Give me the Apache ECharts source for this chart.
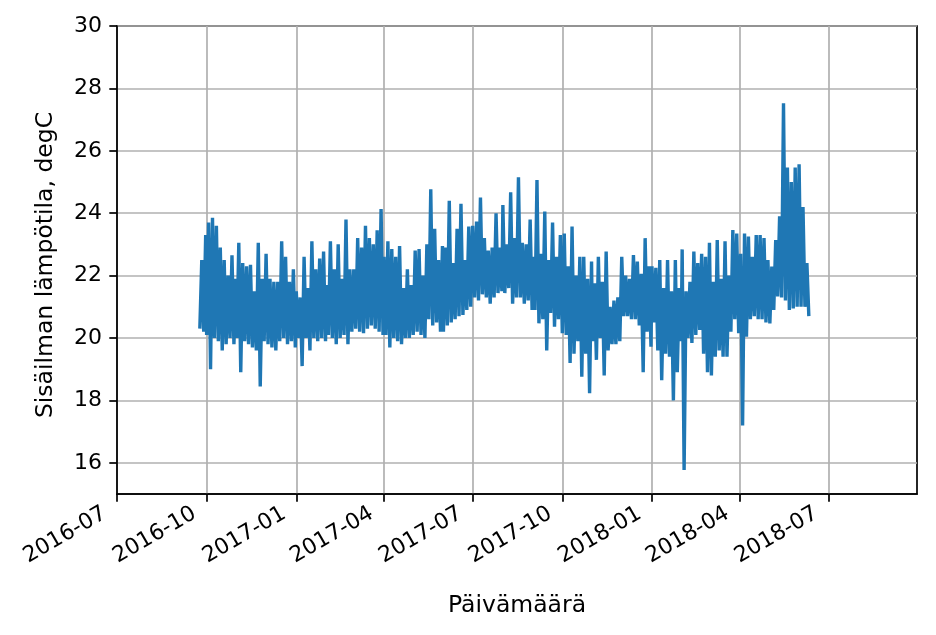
<!DOCTYPE html>
<html><head><meta charset="utf-8">
<script src="https://cdn.jsdelivr.net/npm/echarts@6/dist/echarts.min.js"></script>
<style>html,body{margin:0;padding:0;background:#fff}#c{width:936px;height:635px}</style>
</head><body><div id="c"></div>
<script>
// Indoor temperature samples (degC), one value every 2 days from the segment start day
const sep2016 = [20.3, 22.5, 20.2, 23.3];
const oct2016 = [20.1, 23.7, 19.0, 23.85, 20.0, 23.6, 19.9, 22.9, 19.6, 22.5, 19.8, 22.0, 20.0, 22.65, 19.8, 21.9];
const nov2016 = [20.0, 23.05, 18.9, 22.4, 19.9, 22.3, 19.8, 22.35, 19.7, 21.5, 19.6, 23.05, 18.45, 21.9, 19.9];
const dec2016 = [22.7, 19.8, 21.9, 19.7, 21.8, 19.6, 21.8, 19.9, 23.1, 20.0, 22.6, 19.8, 21.8, 19.9, 22.2, 19.7];
const jan2017 = [21.5, 20.0, 21.3, 19.1, 22.6, 20.0, 21.6, 19.6, 23.1, 20.0, 22.2, 19.9, 22.55, 20.0, 22.77, 19.9];
const feb2017 = [21.7, 20.1, 23.1, 20.0, 22.2, 19.8, 23.0, 20.0, 21.9, 20.1, 23.8, 19.8, 22.2, 20.2];
const mar2017 = [22.2, 20.3, 23.2, 20.2, 22.9, 20.15, 23.6, 20.3, 23.2, 20.4, 23.0, 20.3, 23.45, 20.2, 24.13, 20.1];
const apr2017 = [22.6, 20.1, 23.1, 19.7, 22.85, 20.0, 22.6, 19.9, 22.95, 19.8, 21.6, 20.0, 22.2, 20.0, 21.7];
const may2017 = [20.1, 22.8, 20.2, 22.85, 20.1, 22.0, 20.0, 23.0, 20.6, 24.77, 20.4, 23.5, 20.5, 22.5, 20.2, 22.95];
const jun2017 = [20.2, 22.9, 20.4, 24.4, 20.5, 22.4, 20.6, 23.5, 20.7, 24.3, 20.74, 22.5, 20.9, 23.57, 21.0];
const jul2017 = [23.6, 21.3, 23.73, 21.2, 24.5, 21.4, 23.2, 21.3, 22.8, 21.1, 22.9, 21.3, 24.0, 21.44, 22.9, 21.5];
const aug2017 = [24.26, 21.44, 23.0, 21.6, 24.67, 21.1, 23.2, 21.3, 25.15, 21.3, 23.05, 21.1, 23.0, 21.2, 23.8, 20.9];
const sep2017 = [22.6, 20.9, 25.06, 20.47, 22.7, 20.6, 24.05, 19.6, 22.5, 20.8, 23.7, 20.36, 22.6, 20.6, 23.3];
const oct2017 = [20.15, 23.35, 20.1, 22.3, 19.2, 23.57, 19.5, 22.0, 19.9, 22.6, 18.76, 22.6, 19.5, 21.9, 18.23, 22.45];
const nov2017 = [19.9, 21.75, 19.3, 22.6, 20.0, 21.8, 18.8, 22.77, 19.6, 21.0, 19.8, 21.2, 19.8, 21.3, 19.9];
const dec2017 = [22.6, 20.7, 22.0, 20.7, 21.9, 20.6, 22.66, 20.6, 22.45, 20.4, 22.06, 18.9, 23.2, 20.2, 22.3, 19.72];
const jan2018 = [22.3, 20.5, 22.25, 19.6, 22.5, 18.65, 21.6, 19.5, 22.5, 19.4, 21.5, 18.0, 22.5, 18.9, 21.6, 19.9];
const feb2018 = [22.84, 15.77, 21.5, 20.0, 21.8, 19.84, 22.77, 20.1, 22.4, 20.26, 22.7, 19.5, 22.6, 18.9];
const mar2018 = [23.05, 18.8, 21.8, 19.4, 23.14, 19.6, 21.9, 19.4, 23.1, 19.4, 22.0, 20.2, 23.46, 20.6, 23.35, 20.15];
const apr2018 = [22.7, 17.2, 23.35, 20.04, 23.25, 20.6, 22.6, 20.7, 23.3, 20.6, 23.3, 20.6, 23.2, 20.5, 22.5];
const may2018 = [20.47, 22.29, 20.9, 23.14, 21.33, 23.9, 21.3, 27.52, 21.2, 25.46, 20.9, 25.0, 20.95, 25.46, 21.0];
const jun2018 = [25.57, 21.0, 24.2, 21.0, 22.4, 20.7];

// segment table: year, month, first day, values
const segments = [
  [2016, 9, 24, sep2016], [2016, 10, 1, oct2016], [2016, 11, 1, nov2016], [2016, 12, 1, dec2016],
  [2017, 1, 1, jan2017], [2017, 2, 1, feb2017], [2017, 3, 1, mar2017], [2017, 4, 1, apr2017],
  [2017, 5, 1, may2017], [2017, 6, 1, jun2017], [2017, 7, 1, jul2017], [2017, 8, 1, aug2017],
  [2017, 9, 1, sep2017], [2017, 10, 1, oct2017], [2017, 11, 1, nov2017], [2017, 12, 1, dec2017],
  [2018, 1, 1, jan2018], [2018, 2, 1, feb2018], [2018, 3, 1, mar2018], [2018, 4, 2, apr2018],
  [2018, 5, 2, may2018], [2018, 6, 1, jun2018]
];
const xTickLabels = ['2016-07', '2016-10', '2017-01', '2017-04', '2017-07', '2017-10', '2018-01', '2018-04', '2018-07'];
const yTicks = [16, 18, 20, 22, 24, 26, 28, 30];

const seriesData = [];
segments.forEach(([y, m, d, vals]) => {
  vals.forEach((v, i) => seriesData.push([Date.UTC(y, m - 1, d + 2 * i), v]));
});
const xTickValues = xTickLabels.map(s => Date.UTC(+s.slice(0, 4), +s.slice(5, 7) - 1, 1));
const pad2 = n => (n < 10 ? '0' : '') + n;
const FONT = 'DejaVu Sans';

const chart = echarts.init(document.getElementById('c'), null, { renderer: 'canvas' });
chart.setOption({
  animation: false,
  backgroundColor: '#ffffff',
  grid: { left: 117, right: 19, top: 26, bottom: 141, show: true, borderColor: '#000', borderWidth: 1.7, backgroundColor: 'transparent' },
  xAxis: {
    type: 'value',
    min: Date.UTC(2016, 6, 1),
    max: Date.UTC(2018, 8, 30),
    name: 'Päivämäärä',
    nameLocation: 'middle',
    nameGap: 100,
    nameTextStyle: { fontFamily: FONT, fontSize: 23.5, color: '#000' },
    axisLine: { show: true, onZero: false, lineStyle: { color: '#000', width: 1.7 } },
    axisTick: { show: true, customValues: xTickValues, length: 7.7, lineStyle: { color: '#000', width: 1.7 } },
    axisLabel: {
      customValues: xTickValues,
      rotate: 30, margin: 11, padding: [0, 14, 0, 0],
      fontFamily: FONT, fontSize: 22, color: '#000',
      formatter: v => { const d = new Date(v); return d.getUTCFullYear() + '-' + pad2(d.getUTCMonth() + 1); }
    },
    splitLine: { show: true, lineStyle: { color: '#b0b0b0', width: 1.7 } }
  },
  yAxis: {
    type: 'value',
    min: 15, max: 30,
    name: 'Sisäilman lämpötila, degC',
    nameLocation: 'middle',
    nameGap: 59,
    nameTextStyle: { fontFamily: FONT, fontSize: 23.5, color: '#000', padding: [0, 10, 0, 0] },
    axisLine: { show: true, lineStyle: { color: '#000', width: 1.7 } },
    axisTick: { show: true, customValues: yTicks, length: 7.7, lineStyle: { color: '#000', width: 1.7 } },
    axisLabel: { customValues: yTicks, margin: 15, fontFamily: FONT, fontSize: 22, color: '#000' },
    splitLine: { show: true, lineStyle: { color: '#b0b0b0', width: 1.7 } }
  },
  series: [{
    type: 'line',
    data: seriesData,
    showSymbol: false,
    symbol: 'none',
    sampling: null,
    lineStyle: { color: '#1f77b4', width: 3.4 },
    z: 3
  }]
});
</script></body></html>
